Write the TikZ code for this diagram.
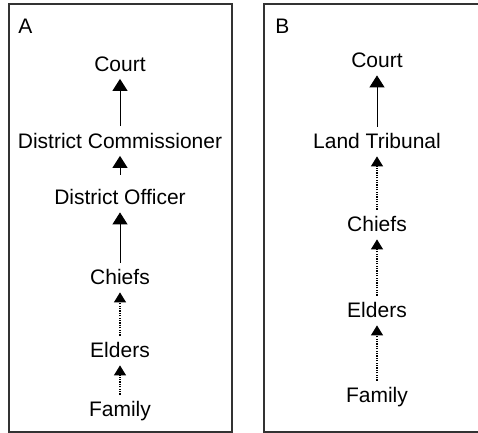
\documentclass[tikz,border=0pt]{standalone}
\usepackage{fontspec}
\setmainfont{Liberation Sans}
\usetikzlibrary{arrows.meta}

\begin{document}
\begin{tikzpicture}[x=0.5pt, y=-0.5pt, node distance={40pt},
  main/.style = {inner xsep=2pt, inner ysep=3.5pt, text height=7.5pt, text depth=0pt, font=\fontsize{10.5}{12}\selectfont},
  panel/.style = {draw=black!80, line width=0.7pt},
  link/.style = {draw, line width=0.5pt, -{Triangle[width=7.5pt,length=6pt]}},
  weak/.style = {draw, line width=0.6pt, dash pattern=on 0.6pt off 0.6pt, -{Triangle[width=6pt,length=5pt]}}]
\useasboundingbox (0,0) rectangle (478,433);
% panels
\draw[panel] (9,4) rectangle (232,432);
\draw[panel] (478,4) -- (264,4) -- (264,432) -- (478,432);
\node[main, anchor=west, inner sep=0pt] (la) at (18,26.5) {A};
\node[main, anchor=west, inner sep=0pt] (lb) at (275,26.5) {B};
% A
\node[main] (a0) at (120,64) {Court};
\node[main] (a1) [below of=a0, node distance=38.5pt] {District Commissioner};
\node[main] (a2) [below of=a1, node distance=28.25pt] {District Officer};
\node[main] (a3) [below of=a2, node distance=40pt] {Chiefs};
\node[main] (a4) [below of=a3, node distance=36.5pt] {Elders};
\node[main] (a5) [below of=a4, node distance=29.5pt] {Family};
\draw[link] (a1) -- (a0);
\draw[link, shorten <=4pt] (a2) -- (a1);
\draw[link] (a3) -- (a2);
\draw[weak] (a4) -- (a3);
\draw[weak] (a5) -- (a4);
% B
\node[main] (b0) at (377,60.5) {Court};
\node[main] (b1) [below of=b0, node distance=40.5pt] {Land Tribunal};
\node[main] (b2) [below of=b1, node distance=41.5pt] {Chiefs};
\node[main] (b3) [below of=b2, node distance=43pt] {Elders};
\node[main] (b4) [below of=b3, node distance=42.5pt] {Family};
\draw[link] (b1) -- (b0);
\draw[weak] (b2) -- (b1);
\draw[weak] (b3) -- (b2);
\draw[weak] (b4) -- (b3);
\end{tikzpicture}
\end{document}
